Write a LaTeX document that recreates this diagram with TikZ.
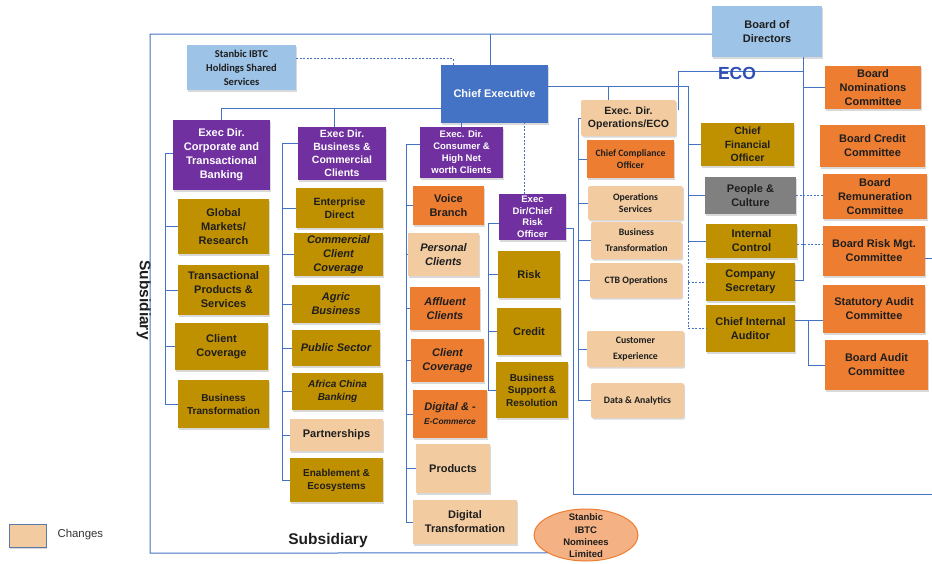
\documentclass[tikz,border=0pt]{standalone}
\usepackage{fontspec}
\setmainfont{Liberation Sans}
\newfontfamily\carlito{Carlito}
\usetikzlibrary{shapes.geometric,shadows,calc}

\definecolor{cGold}{HTML}{BF9000}
\definecolor{cOrange}{HTML}{ED7D31}
\definecolor{cTan}{RGB}{242,204,160}
\definecolor{cPurple}{HTML}{7030A0}
\definecolor{cBlue}{HTML}{4472C4}
\definecolor{cLBlue}{HTML}{9DC3E6}
\definecolor{cGrey}{HTML}{808080}
\definecolor{cLine}{HTML}{4472C4}
\definecolor{cText}{HTML}{1E1E1E}
\definecolor{cSalmon}{HTML}{F4B183}
\definecolor{cEco}{HTML}{2F4FB5}

\tikzset{
  box/.style={rectangle, inner sep=1pt, outer sep=0pt, align=center, text=cText,
    font=\bfseries\fontsize{11}{14}\selectfont,
    drop shadow={shadow xshift=1.2pt, shadow yshift=-1.5pt, opacity=0.3}},
  gold/.style={fill=cGold},
  orng/.style={fill=cOrange},
  tan/.style={fill=cTan},
  purp/.style={fill=cPurple, text=white},
  lblue/.style={fill=cLBlue},
  greyb/.style={fill=cGrey},
  ceb/.style={fill=cBlue, text=white},
  itf/.style={font=\bfseries\itshape\fontsize{11}{14}\selectfont},
  carl/.style={font=\carlito\bfseries\fontsize{9.8}{12.5}\selectfont},
  carlw/.style={font=\carlito\bfseries\fontsize{9.8}{16}\selectfont},
  ln/.style={draw=cLine, line width=1pt},
  dln/.style={draw=cLine, line width=0.9pt, dash pattern=on 2pt off 1.5pt},
  subs/.style={font=\bfseries\fontsize{15.5}{18}\selectfont, text=cText},
}

\newcommand\bx[7]{\node[box,#2,minimum width={(#5-#3)*1pt},minimum height={(#6-#4)*1pt},anchor=north west] (#1) at (#3,#4) {#7};}

\begin{document}
\begin{tikzpicture}[x=1pt,y=-1pt]
\useasboundingbox (0,0) rectangle (932,563);

% top level
\bx{bod}{lblue}{712}{6}{822}{57}{Board of\\Directors}
\bx{ssv}{lblue,font=\carlito\bfseries\fontsize{10.5}{14}\selectfont}{187}{45}{296}{90}{Stanbic IBTC\\Holdings Shared\\Services}
\bx{ce}{ceb}{441}{65}{548}{123}{Chief Executive}
\bx{nom}{orng}{825}{66}{921}{109}{Board\\Nominations\\Committee}

% executive directors
\bx{corp}{purp}{173}{120}{270}{190}{Exec Dir.\\Corporate and\\Transactional\\Banking}
\bx{bus}{purp,font=\bfseries\fontsize{10.5}{13}\selectfont}{298}{127}{386}{180}{Exec Dir.\\Business \&\\Commercial\\Clients}
\bx{cons}{purp,font=\bfseries\fontsize{9.5}{12}\selectfont}{420}{127}{503}{178}{Exec. Dir.\\Consumer \&\\High Net\\worth Clients}
\bx{ops}{tan,rounded corners=2pt,font=\bfseries\fontsize{10.5}{13}\selectfont}{581}{100}{676}{136}{Exec. Dir.\\Operations/ECO}

% operations column
\bx{cco}{orng,font=\carlito\bfseries\fontsize{9.7}{12.3}\selectfont}{587}{140}{674}{178}{Chief Compliance\\Officer}
\bx{osv}{tan,rounded corners=2pt,carl}{588}{186}{683}{220}{Operations\\Services}
\bx{btr}{tan,rounded corners=2pt,carlw}{591}{222}{682}{259}{Business\\Transformation}
\bx{ctb}{tan,rounded corners=2pt,carl}{590}{263}{682}{298}{CTB Operations}
\bx{cx}{tan,rounded corners=2pt,carlw}{587}{331}{684}{367}{Customer\\Experience}
\bx{da}{tan,rounded corners=2pt,carl}{591}{383}{684}{418}{Data \& Analytics}

% ECO column
\bx{cfo}{gold,font=\bfseries\fontsize{10.5}{13.5}\selectfont}{701}{123}{794}{166}{Chief\\Financial\\Officer}
\bx{pc}{greyb}{705}{177}{796}{214}{People \&\\Culture}
\bx{ic}{gold}{706}{224}{797}{258}{Internal\\Control}
\bx{cs}{gold}{706}{263}{795}{301}{Company\\Secretary}
\bx{cia}{gold}{706}{305}{795}{352}{Chief Internal\\Auditor}

% board committees
\bx{bcc}{orng}{820}{125}{925}{167}{Board Credit\\Committee}
\bx{rem}{orng}{823}{174}{927}{219}{Board\\Remuneration\\Committee}
\bx{brm}{orng}{823}{226}{925}{276}{Board Risk Mgt.\\Committee}
\bx{sac}{orng}{823}{285}{925}{333}{Statutory Audit\\Committee}
\bx{bac}{orng}{825}{340}{928}{390}{Board Audit\\Committee}

% corporate column
\bx{gm}{gold}{178}{199}{269}{254}{Global\\Markets/\\Research}
\bx{tps}{gold}{178}{265}{269}{315}{Transactional\\Products \&\\Services}
\bx{cc1}{gold}{175}{323}{268}{370}{Client\\Coverage}
\bx{bt1}{gold,font=\bfseries\fontsize{10}{13}\selectfont}{178}{380}{269}{428}{Business\\Transformation}

% business column
\bx{ed}{gold,font=\bfseries\fontsize{10.5}{13.5}\selectfont}{296}{188}{383}{228}{Enterprise\\Direct}
\bx{ccc}{gold,itf}{294}{233}{383}{276}{Commercial\\Client\\Coverage}
\bx{agr}{gold,itf}{292}{285}{380}{323}{Agric\\Business}
\bx{pub}{gold,itf}{292}{330}{380}{366}{Public Sector}
\bx{acb}{gold,font=\bfseries\itshape\fontsize{10}{12.5}\selectfont}{292}{373}{383}{410}{Africa China\\Banking}
\bx{prt}{tan}{290}{419}{383}{451}{Partnerships}
\bx{ene}{gold,font=\bfseries\fontsize{10}{13}\selectfont}{290}{458}{383}{502}{Enablement \&\\Ecosystems}

% consumer column
\bx{vb}{orng}{413}{186}{484}{225}{Voice\\Branch}
\bx{pcl}{tan,itf}{408}{233}{479}{276}{Personal\\Clients}
\bx{acl}{orng,itf}{410}{287}{480}{330}{Affluent\\Clients}
\bx{ccv}{orng,itf}{411}{339}{484}{382}{Client\\Coverage}
\bx{dig}{orng,itf}{413}{390}{487}{438}{Digital \& -\\{\fontsize{8.4}{12}\selectfont E-Commerce}}
\bx{prd}{tan}{416}{444}{490}{493}{Products}
\bx{dtr}{tan}{413}{500}{517}{544}{Digital\\Transformation}

% risk column
\bx{rko}{purp,font=\bfseries\fontsize{9.5}{11.5}\selectfont}{499}{194}{566}{240}{Exec\\Dir/Chief\\Risk\\Officer}
\bx{rsk}{gold}{498}{251}{560}{298}{Risk}
\bx{cdt}{gold}{497}{308}{561}{355}{Credit}
\bx{bsr}{gold,font=\bfseries\fontsize{10}{12.5}\selectfont}{496}{362}{568}{418}{Business\\Support \&\\Resolution}

% nominees ellipse
\node[ellipse, fill=cSalmon, draw=cOrange, line width=1pt, minimum width=104pt, minimum height=52pt, inner sep=0pt] (nominees) at (586,535) {};
\node[align=center, text=cText, font=\bfseries\fontsize{9.5}{12.3}\selectfont] (nomtext) at (586,536) {Stanbic\\IBTC\\Nominees\\Limited};

% legend
\bx{leg}{tan,draw=cLine!60!gray,drop shadow={opacity=0}}{9}{524}{46}{547}{}
\node[anchor=west, text=black!80, font=\fontsize{11.4}{13}\selectfont] (legtxt) at (54,535) {Changes};

% subsidiary labels
\node[subs, rotate=-90] (sub1) at (144,300) {Subsidiary};
\node[subs] (sub2) at (328,540) {Subsidiary};

% ---------- connectors ----------
\coordinate (ftop) at ([yshift=-2.5pt]bod.west);
\coordinate (frameBL) at (150,553);
\draw[ln] (ftop) -| (frameBL) -- (nominees.205);
\draw[ln] ([xshift=-4pt]ce.north) -- ([xshift=-4pt]ce.north |- ftop);
\draw[dln] ([yshift=9pt]ssv.east) -| ([xshift=-41.5pt]ce.north);

% CE left branch
\coordinate (ceL) at ([yshift=-14.5pt]ce.west);
\draw[ln] (ceL) -| (corp.north);
\draw[ln] ([xshift=-8pt]bus.north) -- ([xshift=-8pt]bus.north |- ceL);
% CE bottom
\draw[ln] (cons.north) -- (cons.north |- ce.south);
\draw[dln] ([xshift=-8pt]rko.north) -- ([xshift=-8pt]rko.north |- ce.south);

% CE right branch
\coordinate (ceR) at ([yshift=8pt]ce.east);
\coordinate (sp3) at (688,0);
\draw[ln] (ceR) -| (ic.west -| sp3) -- (ic.west);
\draw[ln] ([xshift=-20pt]ops.north) -- ([xshift=-20pt]ops.north |- ceR);
\draw[ln] (cfo.west) -- (cfo.west -| sp3);
\draw[ln] (pc.west) -- (pc.west -| sp3);
\draw[dln] (ic.west -| sp3) -- (cia.west -| sp3) -- (cia.west);
\draw[dln] (cs.west -| sp3) -- (cs.west);

% Board
\coordinate (bodV) at ([xshift=36pt]bod.south);
\draw[ln] (bodV) |- ([yshift=2pt]cs.east);
\draw[ln] (nom.west) -- (nom.west -| bodV);
\draw[ln] ([xshift=2pt,yshift=8pt]ops.east) |- ([yshift=2.5pt]737,73.5 -| bodV);
\draw[dln] (pc.east) -- (pc.east -| rem.west);
\draw[dln] ([yshift=-3pt]ic.east) -- ([yshift=-3pt]ic.east -| brm.west);
\draw[ln] ([yshift=8pt]cia.east) -- ([yshift=8pt]cia.east -| sac.west);
\draw[ln] ([yshift=8pt,xshift=13pt]cia.east) |- (bac.west);
\coordinate (redge) at (932,258);
\draw[ln] (brm.east |- redge) -- (redge);

% risk officer loop
\coordinate (rloop) at (573,494);
\coordinate (rend) at (932,494);
\draw[ln] ([yshift=-11pt]rko.east) -| (rloop) -- (rend);

% operations column
\coordinate (sp5) at (578,0);
\draw[ln] (ops.west) -| (da.west -| sp5) -- (da.west);
\foreach \n in {cco,osv,btr,ctb,cx} \draw[ln] (\n.west) -- (\n.west -| sp5);

% risk column
\coordinate (sp4) at (488,0);
\draw[ln] ([yshift=-6pt]rko.west) -| (bsr.west -| sp4) -- (bsr.west);
\foreach \n in {rsk,cdt} \draw[ln] (\n.west) -- (\n.west -| sp4);

% consumer column
\coordinate (sp3c) at (406,0);
\draw[ln] ([yshift=8pt]cons.west) -| (dtr.west -| sp3c) -- (dtr.west);
\foreach \n in {vb,pcl,acl,ccv,dig,prd} \draw[ln] (\n.west) -- (\n.west -| sp3c);

% business column
\coordinate (sp2) at (282,0);
\draw[ln] ([yshift=10pt]bus.west) -| (ene.west -| sp2) -- (ene.west);
\foreach \n in {ed,ccc,agr,pub,acb,prt} \draw[ln] (\n.west) -- (\n.west -| sp2);

% corporate column
\coordinate (sp1) at (165,0);
\draw[ln] ([yshift=2pt]corp.west) -| (bt1.west -| sp1) -- (bt1.west);
\foreach \n in {gm,tps,cc1} \draw[ln] (\n.west) -- (\n.west -| sp1);

% ECO label (over its line)
\node[text=cEco, font=\bfseries\fontsize{17.5}{20}\selectfont] (eco) at (737,73.5) {ECO};
\end{tikzpicture}
\end{document}
